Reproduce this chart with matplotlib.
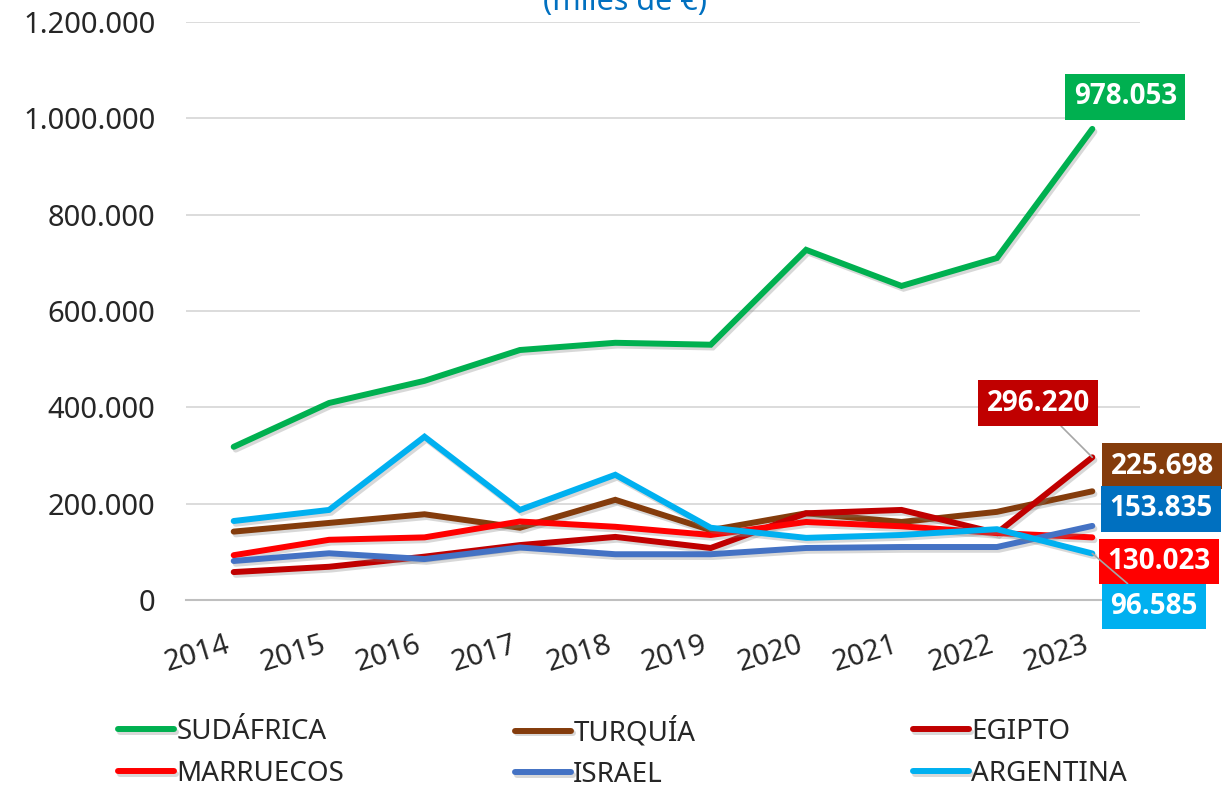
import numpy as np
import matplotlib
matplotlib.use('Agg')
import matplotlib.pyplot as plt
import matplotlib.patheffects as pe
from matplotlib.ticker import FuncFormatter

plt.rcParams['font.family'] = ['Noto Sans', 'DejaVu Sans']

# ── Data (miles de €) ──────────────────────────────────────────────────────────
years = ['2014', '2015', '2016', '2017', '2018', '2019', '2020', '2021', '2022', '2023']
sudafrica = [318000, 409000, 455000, 519000, 534000, 530000, 727000, 652000, 710000, 978053]
turquia   = [142000, 160000, 178000, 150000, 208000, 145000, 180000, 162000, 183000, 225698]
egipto    = [58000, 69000, 90000, 114000, 131000, 108000, 180000, 187000, 139000, 296220]
marruecos = [93000, 125000, 130000, 163000, 152000, 135000, 162000, 153000, 139000, 130023]
israel    = [81000, 97000, 85000, 109000, 95000, 95000, 108000, 110000, 110000, 153835]
argentina = [164000, 187000, 339000, 187000, 260000, 150000, 129000, 135000, 147000, 96585]

names  = ['SUDÁFRICA', 'TURQUÍA', 'EGIPTO', 'MARRUECOS', 'ISRAEL', 'ARGENTINA']
series = [sudafrica, turquia, egipto, marruecos, israel, argentina]
colors = ['#00B050', '#843C0C', '#C00000', '#FF0000', '#4472C4', '#00B0F0']
label_colors = ['#00B050', '#843C0C', '#C00000', '#FF0000', '#0070C0', '#00B0F0']
# label offset from last point (pixels)
label_offsets = [(33, 32), (70, 25), (-54, 54), (67, -24), (69, 17), (62, -53)]
leader = [False, False, True, False, False, True]

# ── Figure ─────────────────────────────────────────────────────────────────────
fig = plt.figure(figsize=(12.29, 7.89), dpi=100)
ax = fig.add_axes([186/1229, 1 - 600/789, (1140 - 186)/1229, (600 - 22)/789])
x = np.arange(len(years))

shadow = [pe.SimpleLineShadow(offset=(1.5, -2), shadow_color='#808080', alpha=0.3), pe.Normal()]
handles = []
for name, vals, c in zip(names, series, colors):
    h, = ax.plot(x, vals, color=c, linewidth=4.3, label=name, solid_capstyle='round',
                 solid_joinstyle='miter', path_effects=shadow)
    handles.append(h)

for vals, lc, off, ld in zip(series, label_colors, label_offsets, leader):
    v = vals[-1]
    txt = f'{v:,}'.replace(',', '.')
    arrow = dict(arrowstyle='-', color='#A6A6A6', lw=1.2, shrinkA=0, shrinkB=0) if ld else None
    ax.annotate(txt, xy=(x[-1], v), xytext=off, textcoords='offset pixels',
                ha='center', va='center', fontsize=20, fontweight='bold', color='white',
                family=['Open Sans', 'DejaVu Sans'],
                bbox=dict(boxstyle='square,pad=0.3', fc=lc, ec='none'),
                arrowprops=arrow, annotation_clip=False, zorder=10)

ax.set_xlim(-0.5, len(years) - 0.5)
ax.set_ylim(0, 1200000)
ax.set_yticks(np.arange(0, 1200001, 200000))
ax.yaxis.set_major_formatter(FuncFormatter(lambda v, p: f'{int(v):,}'.replace(',', '.')))
ax.set_xticks(x)
ax.set_xticklabels(years, rotation=17, ha='right')
ax.tick_params(axis='both', length=0, labelsize=21, colors='#262626')
ax.tick_params(axis='y', pad=22)
ax.tick_params(axis='x', pad=22)
ax.grid(axis='y', color='#D9D9D9', linewidth=1.3)
ax.set_axisbelow(True)
for s in ['top', 'right', 'left']:
    ax.spines[s].set_visible(False)
ax.spines['bottom'].set_color('#BFBFBF')
ax.spines['bottom'].set_linewidth(1.5)

fig.text(625/1229, 1 - 10/789, '(miles de €)', color='#0070C0', fontsize=22,
         ha='center', va='baseline')

# legend: three equal-width columns, two rows
col_x = [118, 515, 913]
for j, cx in enumerate(col_x):
    idx = [j, j + 3]
    fig.legend([handles[i] for i in idx], [names[i] for i in idx], loc='center left',
               bbox_to_anchor=(cx/1229, 1 - 753/789), frameon=False, fontsize=20,
               handlelength=2.0, handletextpad=0.1, labelspacing=0.5,
               borderpad=0, borderaxespad=0, labelcolor='#262626')

fig.savefig('out.png', dpi=100)
